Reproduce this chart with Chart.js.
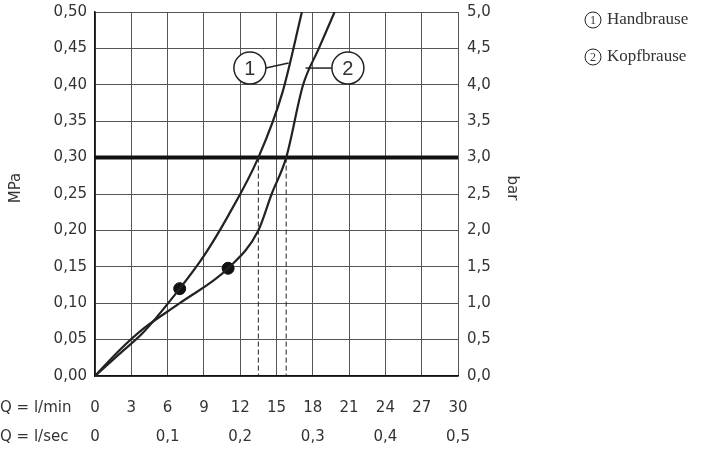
<!DOCTYPE html>
<html><head><meta charset="utf-8">
<script src="https://cdn.jsdelivr.net/npm/chart.js@4"></script>
<style>body{margin:0;background:#fff}</style>
</head><body>
<canvas id="c" width="720" height="451"></canvas>
<script>
"use strict";

// values (x = l/min, y = MPa)
const handX = [0, 2, 4, 7, 9, 11, 13.5, 15.5, 17.1];
const handY = [0, 0.03, 0.06, 0.12, 0.165, 0.22, 0.3, 0.39, 0.5];
const kopfX = [0, 2, 4, 7, 11, 13.5, 14.6, 15.8, 17.2, 18.5, 19.8];
const kopfY = [0, 0.035, 0.065, 0.1, 0.148, 0.2, 0.25, 0.3, 0.4, 0.45, 0.5];
const dots = [[7, 0.12], [11, 0.148]];
const dashX = [13.5, 15.8];
const limitY = 0.3;
const minTicks = [0, 3, 6, 9, 12, 15, 18, 21, 24, 27, 30];
const secTicks = ['0', '0,1', '0,2', '0,3', '0,4', '0,5'];
const mpaTicks = ['0,00','0,05','0,10','0,15','0,20','0,25','0,30','0,35','0,40','0,45','0,50'];
const barTicks = ['0,0','0,5','1,0','1,5','2,0','2,5','3,0','3,5','4,0','4,5','5,0'];
const legendNames = ['Handbrause', 'Kopfbrause'];

const pts = (xs, ys) => xs.map((x, i) => ({x: x, y: ys[i]}));
const ink = '#222';

const labels = {
  id: 'labels',
  afterDraw(chart) {
    const ctx = chart.ctx, xs = chart.scales.x, ys = chart.scales.y;
    ctx.save();
    ctx.fillStyle = '#333';
    ctx.font = '15px "DejaVu Sans"';
    ctx.textBaseline = 'middle';
    mpaTicks.forEach((t, i) => {
      const y = ys.getPixelForValue(i * 0.05);
      ctx.textAlign = 'right'; ctx.fillText(t, xs.left - 8, y);
      ctx.textAlign = 'left'; ctx.fillText(barTicks[i], xs.right + 9, y);
    });
    ctx.textAlign = 'center';
    minTicks.forEach(t => ctx.fillText(String(t), xs.getPixelForValue(t), 408));
    secTicks.forEach((t, i) => ctx.fillText(t, xs.getPixelForValue(i * 6), 437));
    ctx.textAlign = 'left';
    ctx.fillText('Q = l/min', 0, 408);
    ctx.fillText('Q = l/sec', 0, 437);
    ctx.save(); ctx.translate(16, 188); ctx.rotate(-Math.PI / 2);
    ctx.textAlign = 'center'; ctx.fillText('MPa', 0, 0); ctx.restore();
    ctx.save(); ctx.translate(512, 188); ctx.rotate(Math.PI / 2);
    ctx.textAlign = 'center'; ctx.fillText('bar', 0, 0); ctx.restore();

    // numbered callouts
    const callouts = [[12.8, 0.423, 16.0, 0.43, '1'], [20.9, 0.423, 17.4, 0.423, '2']];
    ctx.strokeStyle = ink; ctx.lineWidth = 1.5;
    callouts.forEach(c => {
      const cx = xs.getPixelForValue(c[0]), cy = ys.getPixelForValue(c[1]);
      const lx = xs.getPixelForValue(c[2]), ly = ys.getPixelForValue(c[3]);
      ctx.beginPath(); ctx.moveTo(cx + (lx > cx ? 16 : -16), cy); ctx.lineTo(lx, ly); ctx.stroke();
      ctx.beginPath(); ctx.arc(cx, cy, 16, 0, Math.PI * 2);
      ctx.fillStyle = '#fff'; ctx.fill(); ctx.stroke();
      ctx.fillStyle = '#333'; ctx.font = '20px "Liberation Sans"';
      ctx.textAlign = 'center'; ctx.fillText(c[4], cx, cy + 1);
    });

    // legend
    legendNames.forEach((n, i) => {
      const y = 20 + i * 37;
      ctx.lineWidth = 1;
      ctx.beginPath(); ctx.arc(593, y, 8, 0, Math.PI * 2); ctx.stroke();
      ctx.font = '12px "Liberation Serif"'; ctx.textAlign = 'center';
      ctx.fillText(String(i + 1), 593, y + 1);
      ctx.font = '17px "Liberation Serif"'; ctx.textAlign = 'left';
      ctx.fillText(n, 607, y);
    });
    ctx.restore();
  }
};

new Chart(document.getElementById('c'), {
  type: 'scatter',
  data: {
    datasets: [
      {data: pts(handX, handY), showLine: true, borderColor: ink, borderWidth: 2.2,
       pointRadius: 0, cubicInterpolationMode: 'monotone'},
      {data: pts(kopfX, kopfY), showLine: true, borderColor: ink, borderWidth: 2.2,
       pointRadius: 0, cubicInterpolationMode: 'monotone'},
      {data: [{x: 0, y: limitY}, {x: 30, y: limitY}], showLine: true, borderColor: '#111',
       borderWidth: 4, pointRadius: 0},
      {data: [{x: dashX[0], y: limitY}, {x: dashX[0], y: 0}], showLine: true,
       borderColor: ink, borderWidth: 1, borderDash: [5, 3], pointRadius: 0},
      {data: [{x: dashX[1], y: limitY}, {x: dashX[1], y: 0}], showLine: true,
       borderColor: ink, borderWidth: 1, borderDash: [5, 3], pointRadius: 0},
      {data: dots.map(d => ({x: d[0], y: d[1]})), pointRadius: 6,
       backgroundColor: '#111', borderColor: '#111'}
    ]
  },
  options: {
    responsive: false,
    animation: false,
    layout: {padding: {left: 95, right: 262, top: 12, bottom: 75}},
    plugins: {legend: {display: false}, tooltip: {enabled: false}},
    scales: {
      x: {type: 'linear', min: 0, max: 30,
          ticks: {display: false, stepSize: 3},
          grid: {color: '#555', lineWidth: 1, drawTicks: false},
          border: {color: '#111', width: 1.5}},
      y: {type: 'linear', min: 0, max: 0.5,
          ticks: {display: false, stepSize: 0.05},
          grid: {color: '#555', lineWidth: 1, drawTicks: false},
          border: {color: '#111', width: 1.5}}
    }
  },
  plugins: [labels]
});
</script>
</body></html>
